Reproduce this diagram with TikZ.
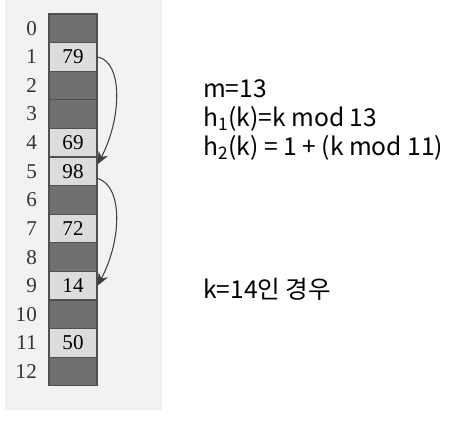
\documentclass[tikz,border=0pt]{standalone}
\usepackage{fontspec}
\setmainfont{Liberation Serif}
\newfontfamily\cjk{Noto Sans CJK KR}
\usetikzlibrary{arrows.meta}

\definecolor{panel-gray}{RGB}{242, 242, 242}
\definecolor{slot-dark}{RGB}{112, 112, 112}
\definecolor{slot-light}{RGB}{220, 220, 220}
\definecolor{slot-line}{RGB}{80, 80, 80}

\begin{document}
\begin{tikzpicture}[
        x=0.02cm, y=-0.02cm,
        slot/.style={shape=rectangle, draw=slot-line, line width=0.6pt,
            minimum width=0.96cm, minimum height=0.572cm, inner sep=0pt,
            font=\fontsize{12}{12}\selectfont},
        index/.style={font=\fontsize{12}{12}\selectfont, text=black!80},
        probe/.style={-{Stealth[length=7pt,width=6pt]}, line width=0.6pt, black!75},
        info/.style={font=\cjk\fontsize{14}{16.5}\selectfont, align=left, anchor=west},
    ]
        \useasboundingbox (0,0) rectangle (475,424);
        \fill[panel-gray] (5,0) rectangle (162,410);
        % empty slots
        \foreach \i in {0,2,3,6,8,10,12}
            \node[slot, fill=slot-dark] (c\i) at (73,{28.3+28.6*\i}) {};
        % filled slots
        \foreach \i/\v in {1/79,4/69,5/98,7/72,9/14,11/50}
            \node[slot, fill=slot-light] (c\i) at (73,{28.3+28.6*\i}) {\v};
        \foreach \i in {0,...,12}
            \node[index, anchor=east] (n\i) at (43,{28.3+28.6*\i}) {\i};

        \draw[probe] (c1.east) .. controls +(26,5) and +(24,-45) .. ([yshift=4pt]c5.east);
        \draw[probe] ([yshift=-4pt]c5.east) .. controls +(26,8) and +(24,-45) .. (c9.east);

        \node[info] (formula) at (197,120) {m=13\\h\textsubscript{1}(k)=k mod 13\\h\textsubscript{2}(k) = 1 + (k mod 11)};
        \node[info] (case) at (197,289) {k=14인 경우};
    \end{tikzpicture}
\end{document}
